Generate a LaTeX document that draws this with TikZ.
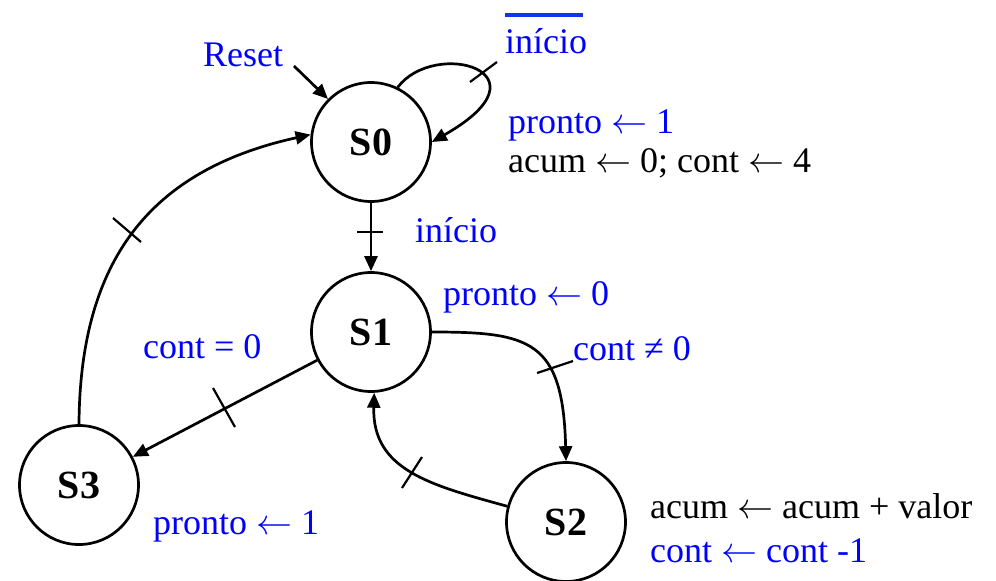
\documentclass[tikz,border=0pt]{standalone}
\usepackage{graphicx}
\usepackage{fontspec}
\setmainfont{Liberation Serif}
\usetikzlibrary{arrows.meta}
\definecolor{lblue}{RGB}{0,0,255}
\definecolor{obar}{RGB}{20,50,240}
\newcommand{\lar}{\scalebox{3.6}{\fontsize{10}{12}\selectfont$\leftarrow$}}
\tikzset{
  state/.style={circle, draw=black, line width=2.7pt, minimum size=119pt, inner sep=0pt,
    font=\fontsize{40}{42}\selectfont\bfseries},
  arr/.style={line width=2.7pt, -{Triangle[length=15pt,width=13pt]}},
  tick/.style={line width=2.2pt},
  lbl/.style={anchor=base west, inner sep=0pt, font=\fontsize{36}{40}\selectfont, text=lblue},
  blk/.style={anchor=base west, inner sep=0pt, font=\fontsize{36}{40}\selectfont, text=black},
}
\begin{document}
\begin{tikzpicture}[x=1pt,y=-1pt]
\useasboundingbox (0,0) rectangle (996,581);
% states
\node[state] (S0) at (371,142) {S0};
\node[state] (S1) at (371,332) {S1};
\node[state] (S2) at (566,522) {S2};
\node[state] (S3) at (79,485) {S3};
% labels
\node[lbl] (reset) at (203,66) {Reset};
\node[lbl] (ini0) at (505,53) {início};
\draw[obar, line width=3.5pt] (505,15) -- (583,15);
\node[lbl] (p1) at (508,133) {pronto \lar{} 1};
\node[blk] (a0) at (508,172) {acum \lar{} 0; cont \lar{} 4};
\node[lbl] (ini1) at (415,242) {início};
\node[lbl] (p0) at (443,305) {pronto \lar{} 0};
\node[lbl] (cne) at (573,360) {cont ≠ 0};
\node[lbl] (ceq) at (143,358) {cont = 0};
\node[lbl] (p3) at (153,534) {pronto \lar{} 1};
\node[blk] (a2) at (650,518) {acum \lar{} acum + valor};
\node[lbl] (c2) at (650,562) {cont \lar{} cont -1};
% connectors
\coordinate (rs) at (294,66);
\draw[arr] (rs) -- (S0.135);
\draw[arr] (S0.64) .. controls (435,38) and (555,72) .. (S0.east);
\draw[arr] (S0) -- (S1);
\draw[arr] (S1.east) .. controls (530,332) and (563,340) .. (S2.north);
\draw[arr] (S2.165) .. controls (430,485) and (372,470) .. (S1.-87);
\draw[arr] (S1) -- (S3);
\draw[arr] (S3.north) .. controls (80,260) and (150,170) .. (S0.173);
% ticks
\draw[tick] (470,82) -- (497,62);
\draw[tick] (357,232) -- (383,232);
\draw[tick] (537,373) -- (573,361);
\draw[tick] (213,388) -- (235,427);
\draw[tick] (402,488) -- (422,457);
\draw[tick] (113,218) -- (141,242);
\end{tikzpicture}
\end{document}
